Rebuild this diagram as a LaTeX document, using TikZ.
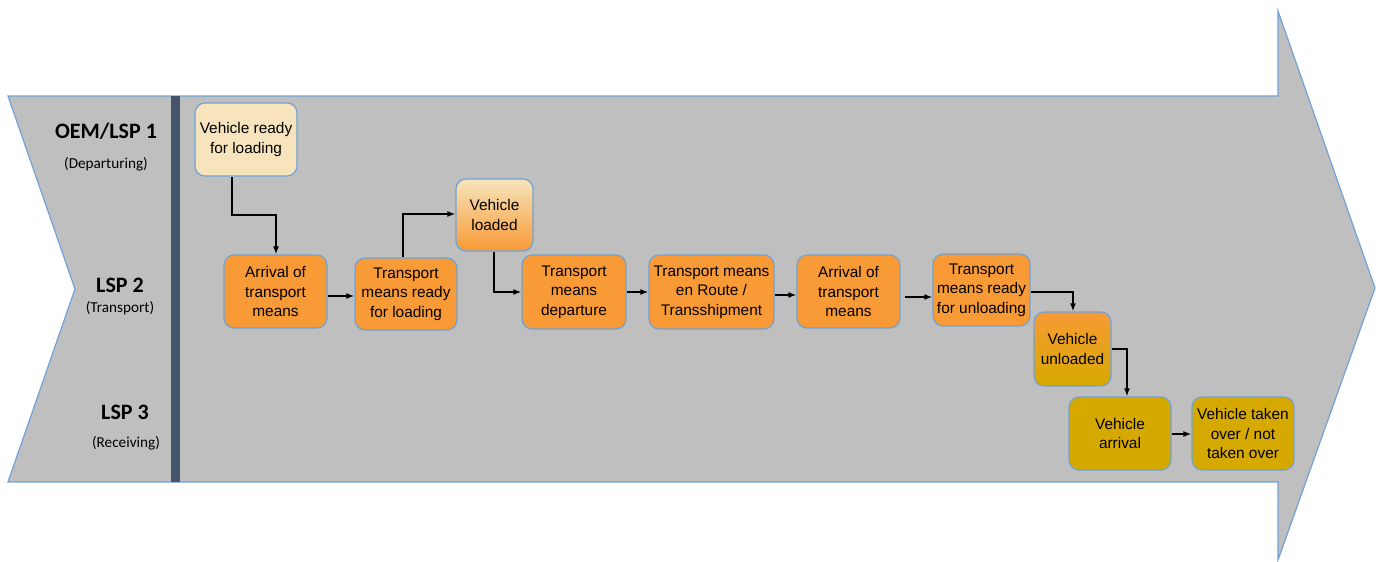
\documentclass[tikz,border=0pt]{standalone}
\usepackage{fontspec}
\setmainfont{Liberation Sans}
\newfontfamily\lblfont{Carlito}
\usetikzlibrary{arrows.meta}
\definecolor{bandgray}{HTML}{BFBFBF}
\definecolor{edgeblue}{HTML}{6FA3D8}
\definecolor{barblue}{HTML}{44546A}
\definecolor{cream}{HTML}{F7E4BC}
\definecolor{orng}{HTML}{F89A35}
\definecolor{gold}{HTML}{D6A900}
\tikzset{
  box/.style={draw=edgeblue, line width=1.2pt, rounded corners=10pt, align=center,
    inner sep=0pt, font=\fontsize{15.4}{19.5}\selectfont, text=black},
  conn/.style={-{Latex[length=8pt,width=6pt]}, line width=1.6pt, black},
  lbl/.style={font=\lblfont\bfseries\fontsize{22}{24}\selectfont},
  sub/.style={font=\lblfont\fontsize{15.2}{17}\selectfont},
}
\begin{document}
\begin{tikzpicture}[x=1pt,y=-1pt]
\useasboundingbox (0,0) rectangle (1381,562);
% big arrow band
\draw[fill=bandgray, draw=edgeblue, line width=1.2pt]
  (8,96) -- (1278,96) -- (1278,11) -- (1375,288) -- (1278,560) -- (1278,482)
  -- (8,482) -- (75,289) -- cycle;
\fill[barblue] (171,96) rectangle (180,482);
% lane labels
\node[lbl] (l1) at (106,131) {OEM/LSP 1};
\node[sub] (s1) at (106,164) {(Departuring)};
\node[lbl] (l2) at (120,285) {LSP 2};
\node[sub] (s2) at (120,308) {(Transport)};
\node[lbl] (l3) at (125,412) {LSP 3};
\node[sub] (s3) at (126,443) {(Receiving)};
% nodes
\node[box, fill=cream, minimum width=102pt, minimum height=73pt] (n1) at (246,139.5) {Vehicle ready\\for loading};
\node[box, fill=orng, minimum width=103pt, minimum height=73pt] (n2) at (275.5,291.5) {Arrival of\\transport\\means};
\node[box, fill=orng, minimum width=102pt, minimum height=72pt] (n3) at (406,294) {Transport\\means ready\\for loading};
\node[box, top color=cream, bottom color=orng, minimum width=77pt, minimum height=72pt] (n4) at (494.5,215) {Vehicle\\loaded};
\node[box, fill=orng, minimum width=104pt, minimum height=74pt] (n5) at (574,292) {Transport\\means\\departure};
\node[box, fill=orng, minimum width=125pt, minimum height=74pt] (n6) at (711.5,292) {Transport means\\en Route /\\Transshipment};
\node[box, fill=orng, minimum width=103pt, minimum height=73pt] (n7) at (848.5,291.5) {Arrival of\\transport\\means};
\node[box, fill=orng, minimum width=97pt, minimum height=72pt] (n8) at (981.5,290) {Transport\\means ready\\for unloading};
\node[box, top color=orng, bottom color=gold, minimum width=77pt, minimum height=74pt] (n9) at (1072.5,349) {Vehicle\\unloaded};
\node[box, fill=gold, minimum width=102pt, minimum height=73pt] (n10) at (1120,433.5) {Vehicle\\arrival};
\node[box, fill=gold, minimum width=102pt, minimum height=73pt] (n11) at (1243,433.5) {Vehicle taken\\over / not\\taken over};
% connectors
\draw[conn] (n1.south -| 232,0) |- (276,215) -- (n2.north -| 276,0);
\draw[conn] (n2.east |- 0,296) -- (n3.west |- 0,296);
\draw[conn] (n3.north -| 403,0) |- (n4.west |- 0,214);
\draw[conn] (n4.south -| 494,0) |- (n5.west |- 0,292);
\draw[conn] (n5.east |- 0,292) -- (n6.west |- 0,292);
\draw[conn] (n6.east |- 0,295) -- (n7.west |- 0,295);
\draw[conn] (905,297) -- (n8.west |- 0,297);
\draw[conn] (n8.east |- 0,292) -| (n9.north -| 1073,0);
\draw[conn] (n9.east |- 0,349) -| (n10.north -| 1127,0);
\draw[conn] (n10.east |- 0,434) -- (n11.west |- 0,434);
\end{tikzpicture}
\end{document}
